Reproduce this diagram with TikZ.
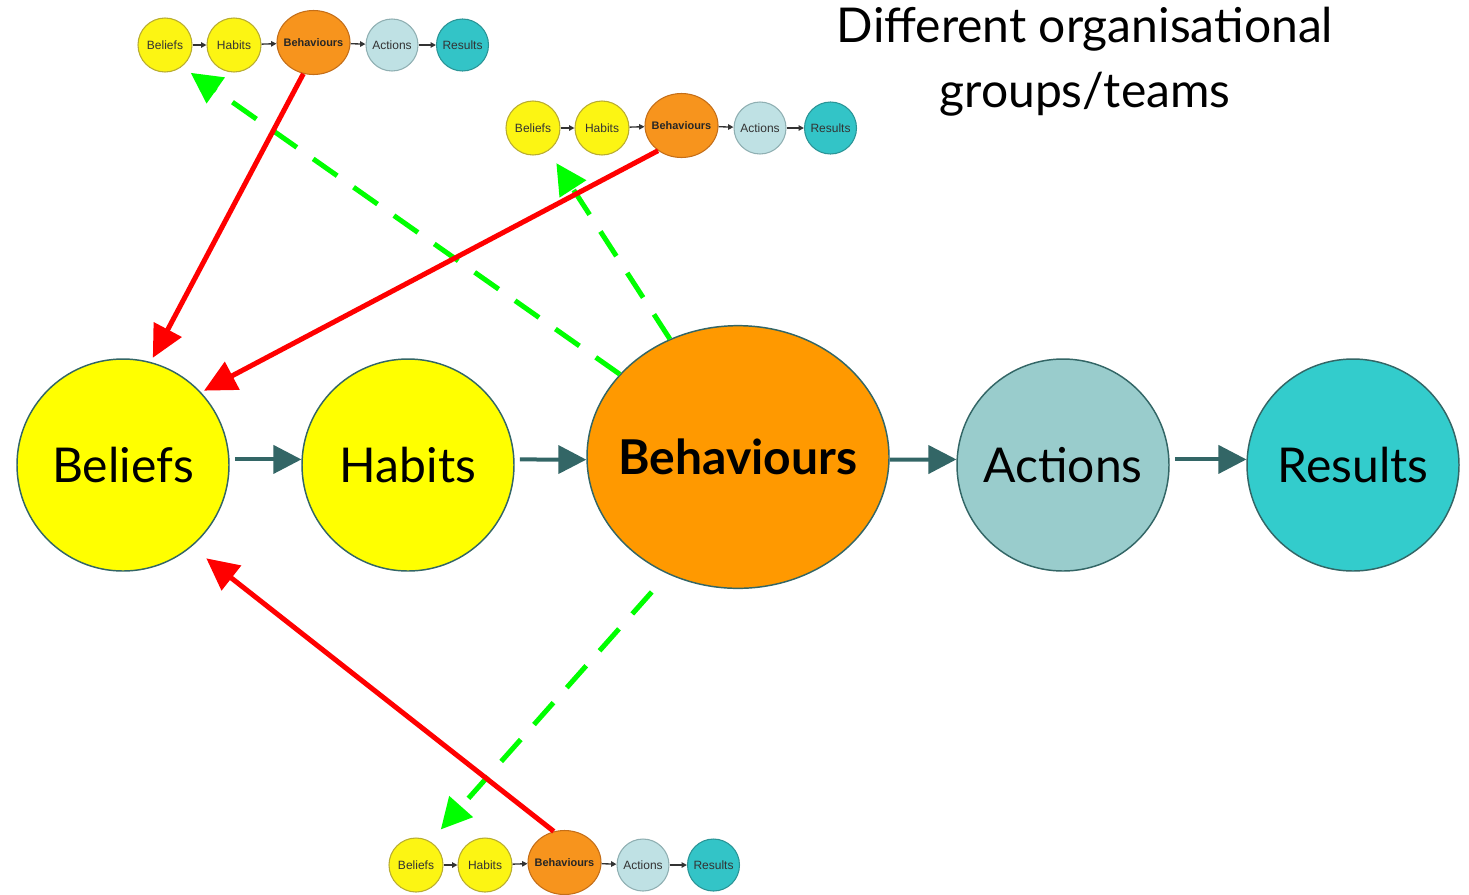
\documentclass[tikz,border=0pt]{standalone}
\usepackage{fontspec}
\setmainfont{Lato}
\newfontfamily\smallfont{Liberation Sans}
\usetikzlibrary{arrows.meta,shapes.geometric}
\definecolor{tealdark}{HTML}{336666}
\definecolor{yel}{HTML}{FFFF00}
\definecolor{orng}{HTML}{FF9900}
\definecolor{actc}{HTML}{99CCCC}
\definecolor{resc}{HTML}{33CCCC}
\definecolor{grn}{HTML}{00FF00}
\definecolor{redc}{HTML}{FF0000}
\definecolor{syel}{HTML}{FCF513}
\definecolor{syelb}{HTML}{B8AC30}
\definecolor{sorng}{HTML}{F7941D}
\definecolor{sorngb}{HTML}{C46E18}
\definecolor{sact}{HTML}{BFE1E4}
\definecolor{sactb}{HTML}{8FAFB2}
\definecolor{sres}{HTML}{33C4C7}
\definecolor{sresb}{HTML}{2A9496}
\tikzset{
  big/.style={circle, draw=tealdark, line width=1.1pt, minimum size=159pt, inner sep=0pt,
    font=\fontsize{36}{40}\selectfont},
  bigell/.style={ellipse, draw=tealdark, line width=1.1pt, minimum width=226.5pt,
    minimum height=197pt, inner sep=0pt, fill=orng, font=\fontsize{36}{40}\selectfont\bfseries},
  mainarrow/.style={draw=tealdark, line width=3pt, -{Triangle[length=21pt,width=21pt]}},
  redarrow/.style={draw=redc, line width=3.75pt, -{Triangle[length=24pt,width=23pt]}},
  greenarrow/.style={draw=grn, line width=3.75pt, dash pattern=on 22pt off 15pt,
    -{Triangle[length=23pt,width=23pt]}},
  sn/.style={circle, line width=0.8pt, minimum size=40.5pt, inner sep=0pt,
    text=black!80, font=\smallfont\fontsize{9}{10}\selectfont},
  sbel/.style={sn, fill=syel, draw=syelb},
  sbeh/.style={ellipse, line width=0.8pt, minimum width=54.75pt, minimum height=48pt,
    inner sep=0pt, fill=sorng, draw=sorngb, text=black!85,
    font=\smallfont\fontsize{8.2}{9}\selectfont\bfseries},
  sactn/.style={sn, minimum size=39pt, fill=sact, draw=sactb},
  sresn/.style={sn, minimum size=39pt, fill=sres, draw=sresb},
  sarr/.style={draw=black!80, line width=1pt, -{Triangle[length=4pt,width=4pt]}},
  minichain/.pic={
    \node[sbel] (-bel) at (0,0) {Beliefs};
    \node[sbel] (-hab) at (69,0) {Habits};
    \node[sbeh] (-beh) at (148.5,-2.5) {\makebox[0pt]{Behaviours}};
    \node[sactn] (-act) at (227,0) {Actions};
    \node[sresn] (-res) at (297.5,0) {Results};
    \draw[sarr] (-bel) -- (-hab);
    \draw[sarr] (-hab) -- (-beh);
    \draw[sarr] (-beh) -- (-act);
    \draw[sarr] (-act) -- (-res);
  }
}
\begin{document}
\begin{tikzpicture}[x=0.75pt,y=-0.75pt]
\useasboundingbox (0,0) rectangle (1469,894);

% main chain
\node[big, fill=yel] (bel) at (123,465) {Beliefs};
\node[big, fill=yel] (hab) at (408,465) {Habits};
\node[bigell] (beh) at (738,457) {\makebox[0pt]{Behaviours}};
\node[big, fill=actc] (act) at (1063,465) {Actions};
\node[big, fill=resc] (res) at (1353,465) {Results};

\draw[mainarrow, shorten <=4pt] (bel.3) -- (hab.177);
\draw[mainarrow, shorten <=4pt] (hab.3) -- (beh.181);
\draw[mainarrow] (beh.-1) -- (act.177);
\draw[mainarrow, shorten <=4pt] (act.3) -- (res.177);

% title
\node[font=\fontsize{36}{48.75}\selectfont, align=center] (title) at (1085,62)
  {Different organisational\\groups/teams};

% small chains
\pic (A) at (165,45) {minichain};
\pic (B) at (533,128) {minichain};
\pic (C) at (416,865) {minichain};

% green dashed arrows
\draw[greenarrow, shorten >=8pt] (beh.145) -- (A-bel.-52);
\draw[greenarrow, shorten >=11pt] (beh.120) -- (B-bel.-56);
\draw[greenarrow, shorten <=18pt, shorten >=12pt] (beh.239) -- (C-bel.59);

% red arrows
\draw[redarrow, shorten >=3.5pt] (A-beh.252) -- (bel.75);
\draw[redarrow, shorten >=2.5pt] (B-beh.227) -- (bel.43);
\draw[redarrow, shorten >=14pt] (C-beh.109) -- (bel.-50);
\end{tikzpicture}
\end{document}
